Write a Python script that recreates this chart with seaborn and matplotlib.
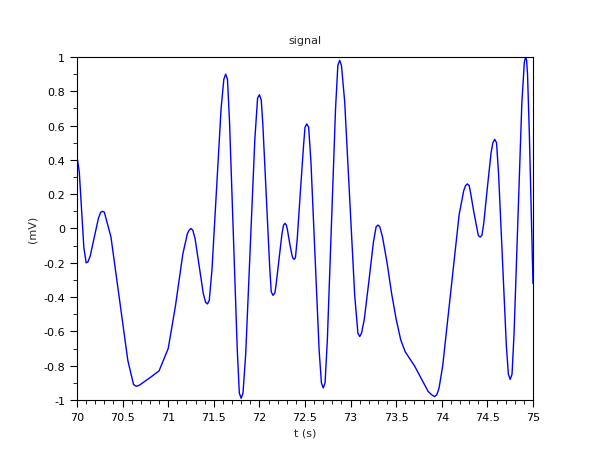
import matplotlib
matplotlib.use("Agg")
import matplotlib.pyplot as plt
import seaborn as sns
import pandas as pd
from matplotlib.ticker import MultipleLocator

t = [70.00,70.025,70.05,70.075,70.10,70.145,70.19,70.235,70.28,70.3725,70.465,70.5575,70.65,70.72,70.80,70.90,
     71.00,71.08,71.16,71.21,71.25,71.295,71.34,71.385,71.43,71.48,71.53,71.58,71.63,71.6725,71.715,71.7575,71.80,
     71.85,71.90,71.95,72.00,72.0375,72.075,72.1125,72.15,72.1825,72.215,72.2475,72.28,72.305,72.33,72.355,72.38,
     72.415,72.45,72.485,72.52,72.565,72.61,72.655,72.70,72.745,72.79,72.835,72.88,72.935,72.99,73.045,73.10,
     73.15,73.20,73.25,73.30,73.35,73.40,73.45,73.50,73.55,73.60,73.65,73.70,73.75,73.80,73.85,73.92,
     73.97,74.01,74.10,74.19,74.24,74.28,74.315,74.35,74.385,74.42,74.46,74.50,74.54,74.58,74.6225,74.665,74.7075,
     74.75,74.7925,74.835,74.8775,74.92,74.94,74.96,74.98,75.00]
v = [0.42,0.33,0.11,-0.11,-0.20,-0.16,-0.05,0.06,0.10,-0.05,-0.41,-0.77,-0.92,-0.90,-0.87,-0.83,
     -0.70,-0.45,-0.15,-0.03,0.00,-0.06,-0.22,-0.38,-0.44,-0.24,0.23,0.70,0.90,0.62,-0.05,-0.71,-0.99,
     -0.73,-0.11,0.52,0.78,0.61,0.20,-0.22,-0.39,-0.33,-0.18,-0.03,0.03,0.00,-0.08,-0.15,-0.18,
     -0.06,0.22,0.49,0.61,0.39,-0.16,-0.71,-0.93,-0.65,0.03,0.70,0.98,0.74,0.18,-0.39,-0.63,
     -0.53,-0.31,-0.08,0.02,-0.05,-0.20,-0.38,-0.53,-0.65,-0.72,-0.76,-0.80,-0.85,-0.90,-0.95,-0.98,
     -0.93,-0.80,-0.36,0.08,0.22,0.26,0.21,0.10,0.00,-0.05,0.03,0.24,0.44,0.52,0.32,-0.18,-0.68,
     -0.88,-0.61,0.06,0.73,1.00,0.90,0.55,0.12,-0.32]

# extra samples read near the peaks and troughs
t_peaks = [70.12,70.26,70.30,70.62,70.68,71.23,71.27,71.41,71.45,71.61,71.65,71.78,71.82,71.98,72.02,
           72.13,72.17,72.265,72.295,72.365,72.395,72.50,72.54,72.68,72.72,72.86,72.90,73.08,73.12,
           73.28,73.32,73.89,73.945,74.26,74.30,74.40,74.44,74.56,74.60,74.73,74.77,74.905,74.93]
v_peaks = [-0.195,0.095,0.095,-0.91,-0.915,-0.01,-0.01,-0.43,-0.42,0.87,0.87,-0.96,-0.96,0.76,0.75,
           -0.37,-0.375,0.02,0.02,-0.17,-0.17,0.59,0.59,-0.90,-0.90,0.95,0.95,-0.61,-0.61,
           0.01,0.01,-0.97,-0.97,0.25,0.25,-0.04,-0.04,0.50,0.50,-0.85,-0.85,0.97,0.98]

df = pd.DataFrame({"t": t + t_peaks, "v": v + v_peaks}).sort_values("t")
sns.set_style("white")
plt.rcParams['font.family'] = ['DejaVu Sans']
fig = plt.figure(figsize=(6.1, 4.6), dpi=100)
ax = fig.add_axes([77/610, 1-401/460, (533-77)/610, (401-58)/460])
sns.lineplot(data=df, x="t", y="v", ax=ax, color="blue", linewidth=1, sort=True)
ax.set_xlim(70, 75)
ax.set_ylim(-1, 1)
ax.xaxis.set_major_locator(MultipleLocator(0.5))
ax.xaxis.set_minor_locator(MultipleLocator(0.1))
ax.yaxis.set_major_locator(MultipleLocator(0.2))
ax.yaxis.set_minor_locator(MultipleLocator(0.1))
ax.tick_params(which="both", direction="out", bottom=True, left=True, labelsize=8, colors="black")
ax.tick_params(which="major", length=5)
ax.tick_params(which="minor", length=3)
ax.set_xticks(ax.get_xticks())
ax.set_xticklabels([f"{round(x, 2):g}" for x in ax.get_xticks()])
ax.set_yticks(ax.get_yticks())
ax.set_yticklabels([f"{round(y, 2) + 0:g}" for y in ax.get_yticks()])
ax.set_xlim(70, 75)
ax.set_ylim(-1, 1)
for s in ax.spines.values():
    s.set_color("black"); s.set_linewidth(0.8)
ax.set_xlabel("t (s)", fontsize=8)
ax.set_ylabel("(mV)", fontsize=8)
ax.set_title("signal", fontsize=8, pad=10)
fig.savefig("out.png", dpi=100)
